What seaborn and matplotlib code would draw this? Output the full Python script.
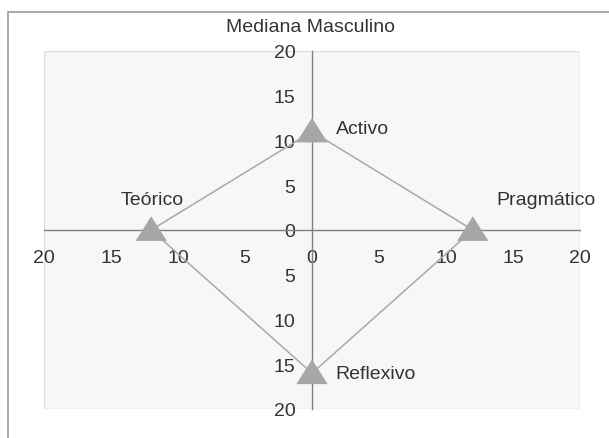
import matplotlib
matplotlib.use("Agg")
import matplotlib.pyplot as plt
import matplotlib.ticker as mticker
from matplotlib.patches import Rectangle
import pandas as pd
import seaborn as sns

# data
styles = ["Teórico", "Activo", "Pragmático", "Reflexivo"]
x_vals = [-12, 0, 12, 0]
y_vals = [0, 11, 0, -16]
ticks = [-20, -15, -10, -5, 0, 5, 10, 15, 20]

df = pd.DataFrame({"estilo": styles, "x": x_vals, "y": y_vals})
# closed path for the diamond
path = pd.concat([df, df.iloc[[0]]], ignore_index=True)

sns.set_style("white")
plt.rcParams["font.family"] = ["Liberation Sans", "DejaVu Sans"]

fig = plt.figure(figsize=(6.09, 4.39), dpi=100)
ax = fig.add_axes([44 / 609, 1 - 410 / 439, 536 / 609, 358 / 439])
ax.set_facecolor("#f7f7f7")

# wide, flat triangle like the Excel marker
tri = [(0, 1), (-1.15, -0.8), (1.15, -0.8)]

sns.lineplot(data=path, x="x", y="y", sort=False, estimator=None,
             color="#a8a8a8", linewidth=1.1, ax=ax, zorder=2)
sns.scatterplot(data=df, x="x", y="y", marker=tri, s=510, color="#a6a6a6",
                edgecolor="none", ax=ax, zorder=3)

ax.set_xlim(-20, 20)
ax.set_ylim(-20, 20)
ax.set_xticks(ticks)
ax.set_yticks(ticks)
absfmt = mticker.FuncFormatter(lambda v, p: f"{abs(int(v))}")
ax.xaxis.set_major_formatter(absfmt)
ax.yaxis.set_major_formatter(absfmt)

ax.spines["left"].set_position("zero")
ax.spines["bottom"].set_position("zero")
ax.spines["right"].set_visible(False)
ax.spines["top"].set_visible(False)
for s in ["left", "bottom"]:
    ax.spines[s].set_color("#808080")
    ax.spines[s].set_linewidth(1.0)

ax.tick_params(axis="x", direction="in", length=3, color="#808080",
               labelsize=14, labelcolor="#333333", pad=14)
ax.tick_params(axis="y", direction="out", length=4, color="#808080",
               labelsize=14, labelcolor="#333333", pad=8)
ax.set_xlabel("")
ax.set_ylabel("")

# plot area border
ax.add_patch(Rectangle((0, 0), 1, 1, transform=ax.transAxes, fill=False,
                       edgecolor="#dddddd", linewidth=1.0, zorder=0))

# point labels
offsets = {"Teórico": (1, 22, "center"), "Activo": (17, 2, "left"),
           "Pragmático": (17, 22, "left"), "Reflexivo": (17, 0, "left")}
for st, xv, yv in zip(styles, x_vals, y_vals):
    dx, dy, ha = offsets[st]
    ax.annotate(st, (xv, yv), xytext=(dx, dy), textcoords="offset points",
                ha=ha, va="center", fontsize=14, color="#333333")

fig.text(311 / 609, 1 - 28 / 439, "Mediana Masculino", ha="center",
         va="center", fontsize=14, color="#333333")

# outer chart border
fig.patches.append(Rectangle((8 / 609, -0.05), 1.2, 1 - 13 / 439 + 0.05,
                             transform=fig.transFigure, fill=False,
                             edgecolor="#9a9a9a", linewidth=1.2))

fig.savefig("out.png", dpi=100)
